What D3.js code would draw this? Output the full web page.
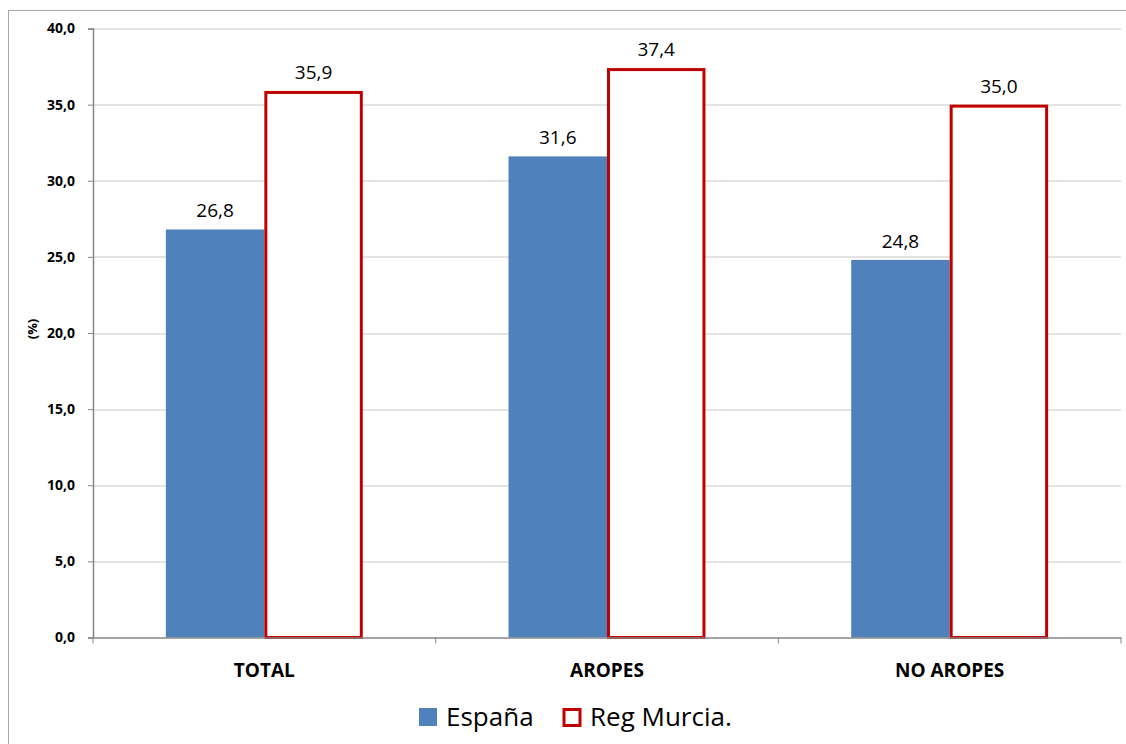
<!DOCTYPE html>
<html>
<head>
<meta charset="utf-8">
<script src="https://cdn.jsdelivr.net/npm/d3@7"></script>
<style>
  body { margin: 0; background: #fff; }
  text { font-family: "Open Sans", sans-serif; }
</style>
</head>
<body>
<div id="chart"></div>
<script>
// data
const categories = ["TOTAL", "AROPES", "NO AROPES"]
const espana = [26.8, 31.6, 24.8]
const murcia = [35.9, 37.4, 35.0]
const seriesNames = ["España", "Reg Murcia."]
const yTicks = [0, 5, 10, 15, 20, 25, 30, 35, 40]

const width = 1126, height = 744
const margin = {top: 28.5, left: 93}
const innerW = 1121 - margin.left
const innerH = 637.5 - margin.top

const fmt = v => v.toFixed(1).replace(".", ",")

const svg = d3.select("#chart")
  .append("svg")
    .attr("width", width)
    .attr("height", height)

// outer chart border
svg.append("rect")
  .attr("x", 8.5).attr("y", 10.5)
  .attr("width", 1130).attr("height", 760)
  .attr("fill", "none")
  .attr("stroke", "#a6a6a6")
  .attr("stroke-width", 1)

const g = svg.append("g")
  .attr("transform", `translate(${margin.left},${margin.top})`)

const x = d3.scaleBand()
  .domain(categories)
  .range([0, innerW])
  .paddingInner(0)

const x1 = d3.scaleBand()
  .domain(seriesNames)
  .range([0, x.bandwidth()])
  .paddingInner(0)
  .paddingOuter(0.74)

const y = d3.scaleLinear()
  .domain([0, 40])
  .range([innerH, 0])

// gridlines
g.selectAll(".grid")
  .data(yTicks.slice(1))
  .join("line")
    .attr("x1", 0).attr("x2", innerW)
    .attr("y1", d => Math.round(y(d)) + 0.5)
    .attr("y2", d => Math.round(y(d)) + 0.5)
    .attr("stroke", "#c8c8c8")

// y axis
const yAxis = g.append("g")
  .call(d3.axisLeft(y).tickValues(yTicks).tickFormat(fmt).tickSize(5).tickPadding(13))
yAxis.select(".domain").attr("stroke", "#868686").attr("stroke-width", 1.5)
yAxis.selectAll(".tick line").attr("stroke", "#868686")
yAxis.selectAll(".tick text")
  .style("font-size", "14px").style("font-weight", "bold").attr("fill", "#000")

// y label
g.append("text")
  .attr("transform", `translate(-56,${innerH / 2 - 4}) rotate(-90)`)
  .attr("text-anchor", "middle")
  .style("font-size", "13px").style("font-weight", "bold")
  .text("(%)")

// bars
const groups = g.selectAll(".cat")
  .data(categories)
  .join("g")
    .attr("transform", d => `translate(${x(d)},0)`)

groups.append("rect")
  .attr("x", d => x1("España"))
  .attr("width", x1.bandwidth())
  .attr("y", (d, i) => y(espana[i]))
  .attr("height", (d, i) => innerH - y(espana[i]))
  .attr("fill", "#4f81bd")

groups.append("rect")
  .attr("x", d => x1("Reg Murcia.") + 1.5)
  .attr("width", x1.bandwidth() - 3)
  .attr("y", (d, i) => y(murcia[i]) + 1.5)
  .attr("height", (d, i) => innerH - y(murcia[i]) - 1.5)
  .attr("fill", "#fff")
  .attr("stroke", "#c00000")
  .attr("stroke-width", 3)

// value labels
groups.append("text")
  .attr("x", d => x1("España") + x1.bandwidth() / 2)
  .attr("y", (d, i) => y(espana[i]) - 12)
  .attr("text-anchor", "middle")
  .style("font-size", "19px")
  .text((d, i) => fmt(espana[i]))

groups.append("text")
  .attr("x", d => x1("Reg Murcia.") + x1.bandwidth() / 2)
  .attr("y", (d, i) => y(murcia[i]) - 12)
  .attr("text-anchor", "middle")
  .style("font-size", "19px")
  .text((d, i) => fmt(murcia[i]))

// x axis
const xAxis = g.append("g")
  .attr("transform", `translate(0,${innerH})`)
  .call(d3.axisBottom(x).tickSize(0))
xAxis.select(".domain").attr("stroke", "#868686").attr("stroke-width", 1.5)
xAxis.selectAll(".tick text")
  .attr("y", 39).attr("dy", 0)
  .style("font-size", "19px").style("font-weight", "bold").attr("fill", "#000")

// category separator ticks
xAxis.selectAll(".sep")
  .data(d3.range(categories.length + 1))
  .join("line")
    .attr("x1", i => i * x.step()).attr("x2", i => i * x.step())
    .attr("y1", 0).attr("y2", 6)
    .attr("stroke", "#868686")

// legend
const legend = svg.append("g").attr("transform", "translate(419,708)")
legend.append("rect")
  .attr("x", 0).attr("y", 0).attr("width", 18).attr("height", 18)
  .attr("fill", "#4f81bd")
legend.append("text")
  .attr("x", 27).attr("y", 17.5)
  .style("font-size", "26px")
  .text(seriesNames[0])
legend.append("rect")
  .attr("x", 145).attr("y", 1.5).attr("width", 16).attr("height", 16)
  .attr("fill", "#fff").attr("stroke", "#c00000").attr("stroke-width", 3)
legend.append("text")
  .attr("x", 171).attr("y", 17.5)
  .style("font-size", "26px")
  .text(seriesNames[1])
</script>
</body>
</html>
